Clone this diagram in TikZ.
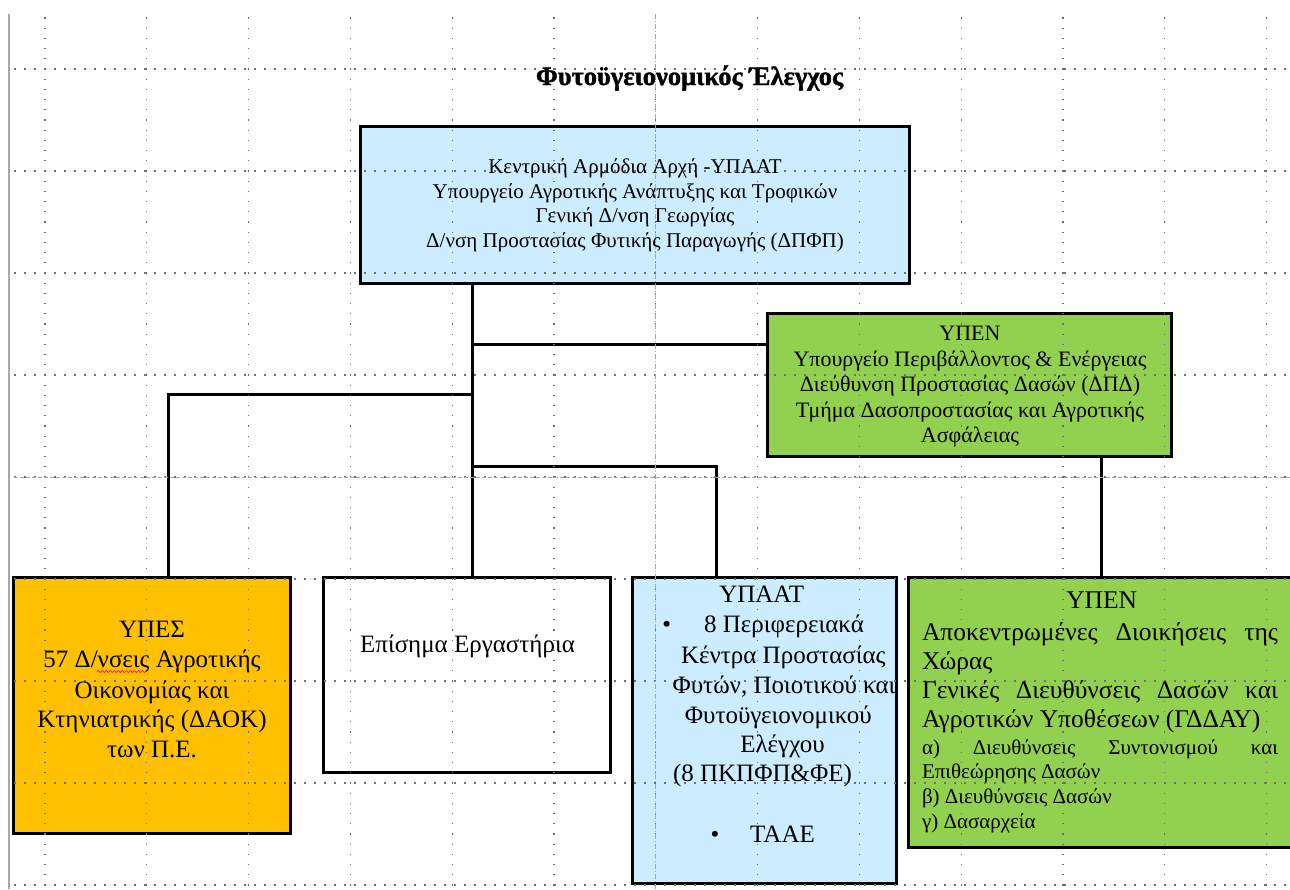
\documentclass[tikz,border=0pt]{standalone}
\usepackage{fontspec}
\setmainfont{Liberation Serif}
\newfontfamily\titlefont[BoldFeatures={FakeBold=1.3}]{Liberation Serif}
\usetikzlibrary{decorations.pathmorphing}
\definecolor{lblue}{HTML}{CCECFF}
\definecolor{lgreen}{HTML}{92D050}
\definecolor{orng}{HTML}{FFC000}
\definecolor{griddot}{HTML}{707070}
\definecolor{gridline}{HTML}{A8A8A8}
\begin{document}
\begin{tikzpicture}[x=1pt,y=-1pt,
  box/.style={draw=black,line width=3pt,inner sep=0pt,outer sep=0pt},
  conn/.style={draw=black,line width=3pt},
  lbl/.style={inner sep=0pt,outer sep=0pt,anchor=base,font=\fontsize{21}{25}\selectfont},
  lblB/.style={lbl,font=\fontsize{22}{26}\selectfont},
  lblL/.style={lbl,font=\fontsize{25}{30}\selectfont},
  lblF/.style={lbl,anchor=base west,font=\fontsize{25.5}{30}\selectfont},
  lblS/.style={lbl,anchor=base west,font=\fontsize{21}{25}\selectfont},
  vdots/.style={griddot,line width=1.2pt,dash pattern=on 1.2pt off 9pt},
  hdots/.style={griddot,line width=1.2pt,dash pattern=on 1.2pt off 8.8pt},
  ttl/.style={inner sep=0pt,outer sep=0pt,anchor=base,font=\titlefont\fontsize{26.5}{30}\selectfont\bfseries},
]
\path[clip] (0,0) rectangle (1290,889);
\fill[white] (0,0) rectangle (1290,889);
\draw[gridline,line width=1.2pt] (9,14) -- (9,889);

% boxes
\node[box,fill=lblue,minimum width=549pt,minimum height=157pt] (A) at (634.5,204.5) {};
\node[box,fill=lgreen,minimum width=404pt,minimum height=143pt] (B) at (969,384.5) {};
\node[box,fill=orng,minimum width=277pt,minimum height=256pt] (C) at (151.5,705) {};
\node[box,fill=white,minimum width=287pt,minimum height=195pt] (D) at (466.5,674.5) {};
\node[box,fill=lblue,minimum width=264pt,minimum height=306pt] (E) at (764,730) {};
\node[box,fill=lgreen,minimum width=392pt,minimum height=270pt] (F) at (1104,712) {};

% connectors
\coordinate (trunk) at (472,0);
\coordinate (jB) at (472,344);
\coordinate (jC) at (472,394);
\coordinate (cC) at (168,394);
\coordinate (jE) at (472,466);
\coordinate (cE) at (716,466);
\coordinate (fx) at (1101,0);
\draw[conn] (A.south -| trunk) -- (D.north -| trunk);
\draw[conn] (jB) -- (B.west |- jB);
\draw[conn] (jC) -- (cC) -- (C.north -| cC);
\draw[conn] (jE) -- (cE) -- (E.north -| cE);
\draw[conn] (B.south -| fx) -- (F.north -| fx);

% grid
\foreach \i in {0,...,12}{\draw[vdots] ({45+101.8*\i},17.4) -- ({45+101.8*\i},889);}
\foreach \j in {0,...,8}{\draw[hdots] (14.4,{69+102*\j}) -- (1290,{69+102*\j});}
\draw[gridline,line width=0.7pt,dash pattern=on 5pt off 2pt on 1pt off 2pt] (655.8,14) -- (655.8,889);
\draw[gridline,line width=0.7pt,dash pattern=on 4pt off 2pt] (14,477) -- (1290,477);

% title
\node[ttl] (title) at (689.5,85) {Φυτοϋγειονομικός Έλεγχος};

% box A
\node[lbl] (a1) at (635,173.3) {Κεντρική Αρμόδια Αρχή -ΥΠΑΑΤ};
\node[lbl] (a2) at (635,198.1) {Υπουργείο Αγροτικής Ανάπτυξης και Τροφικών};
\node[lbl] (a3) at (635,222.9) {Γενική Δ/νση Γεωργίας};
\node[lbl] (a4) at (635,247.7) {Δ/νση Προστασίας Φυτικής Παραγωγής (ΔΠΦΠ)};

% box B
\node[lblB] (b1) at (970,340.5) {ΥΠΕΝ};
\node[lblB] (b2) at (970,366) {Υπουργείο Περιβάλλοντος \& Ενέργειας};
\node[lblB] (b3) at (970,391.5) {Διεύθυνση Προστασίας Δασών (ΔΠΔ)};
\node[lblB] (b4) at (970,417) {Τμήμα Δασοπροστασίας και Αγροτικής};
\node[lblB] (b5) at (970,442.5) {Ασφάλειας};

% box C
\node[lblL] (c1) at (152,637) {ΥΠΕΣ};
\node[lblL] (c2) at (152,667) {57 Δ/νσεις Αγροτικής};
\node[lblL] (c3) at (152,698) {Οικονομίας και};
\node[lblL] (c4) at (152,727) {Κτηνιατρικής (ΔΑΟΚ)};
\node[lblL] (c5) at (152,757) {των Π.Ε.};
\draw[red,line width=0.6pt,decorate,decoration={snake,amplitude=0.9pt,segment length=4pt}] (97,671.5) -- (147,671.5);

% box D
\node[lblL] (d1) at (467.5,652.7) {Επίσημα Εργαστήρια};

% box E
\node[lblL] (e1) at (761.7,602) {ΥΠΑΑΤ};
\node[lblL] (eb1) at (666.7,632) {•};
\node[lblL] (e2) at (784,632) {8 Περιφερειακά};
\node[lblL] (e3) at (783.3,663) {Κέντρα Προστασίας};
\node[lblL] (e4) at (784,693) {Φυτών, Ποιοτικού και};
\node[lblL] (e5) at (778.3,723) {Φυτοϋγειονομικού};
\node[lblL] (e6) at (782.5,752) {Ελέγχου};
\node[lblL] (e7) at (762.5,781) {(8 ΠΚΠΦΠ\&ΦΕ)};
\node[lblL] (eb2) at (715,842) {•};
\node[lblL] (e8) at (782.5,842) {ΤΑΑΕ};

% box F
\node[lbl,font=\fontsize{25.5}{30}\selectfont] (f0) at (1101.7,608) {ΥΠΕΝ};
\node[lblF] (f1) at (922,640) {\makebox[356pt][s]{Αποκεντρωμένες\hfill Διοικήσεις\hfill της}};
\node[lblF] (f2) at (922,669) {Χώρας};
\node[lblF] (f3) at (922,698) {\makebox[356pt][s]{Γενικές\hfill Διευθύνσεις\hfill Δασών\hfill και}};
\node[lblF] (f4) at (922,727) {Αγροτικών Υποθέσεων (ΓΔΔΑΥ)};
\node[lblS] (f5) at (922,754) {\makebox[356pt][s]{α)\hfill Διευθύνσεις\hfill Συντονισμού\hfill και}};
\node[lblS] (f6) at (922,778) {Επιθεώρησης Δασών};
\node[lblS] (f7) at (922,803) {β) Διευθύνσεις Δασών};
\node[lblS] (f8) at (922,828) {γ) Δασαρχεία};
\end{tikzpicture}
\end{document}
